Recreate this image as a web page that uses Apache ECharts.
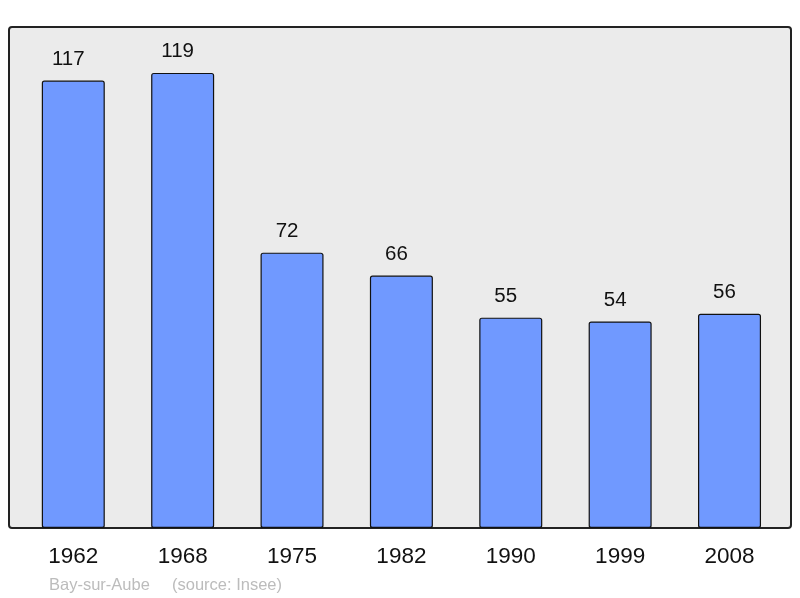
<!DOCTYPE html>
<html><head><meta charset="utf-8">
<script src="https://cdn.jsdelivr.net/npm/echarts@6/dist/echarts.min.js"></script>
<style>html,body{margin:0;padding:0;background:#fff}#c{width:800px;height:598px}</style>
</head><body><div id="c"></div>
<script>
const years = ['1962','1968','1975','1982','1990','1999','2008'];
const population = [117,119,72,66,55,54,56];
const placeName = 'Bay-sur-Aube';
const sourceText = '(source: Insee)';

const FF = '"Liberation Sans", Arial, sans-serif';
const chart = echarts.init(document.getElementById('c'), null, {renderer:'canvas'});
chart.setOption({
  backgroundColor:'#ffffff',
  animation:false,
  textStyle:{fontFamily:FF},
  graphic:[
    {type:'rect', z:0, shape:{x:9,y:27,width:782,height:501,r:3},
     style:{fill:'#ebebeb', stroke:'#222222', lineWidth:2}},
    {type:'text', left:49, top:576.5, style:{text:placeName, fill:'#bcbcbc', font:'16.5px ' + FF}},
    {type:'text', left:172, top:576.5, style:{text:sourceText, fill:'#bcbcbc', font:'16.5px ' + FF}}
  ],
  grid:{left:18.6, width:765.6, top:27, height:501, containLabel:false},
  xAxis:{type:'category', data:years, axisLine:{show:false}, axisTick:{show:false},
    axisLabel:{fontSize:22.5, color:'#111', margin:17.5, fontFamily:FF}},
  yAxis:{type:'value', min:0, max:131, show:false, splitLine:{show:false}},
  series:[{type:'bar', data:population, barWidth:63, z:5,
    itemStyle:{color:'#7099ff', borderColor:'#111', borderWidth:1.2, borderRadius:2},
    label:{show:true, position:'top', distance:11, offset:[-5,0], fontSize:20.5, color:'#111', fontFamily:FF}}]
});
</script></body></html>
